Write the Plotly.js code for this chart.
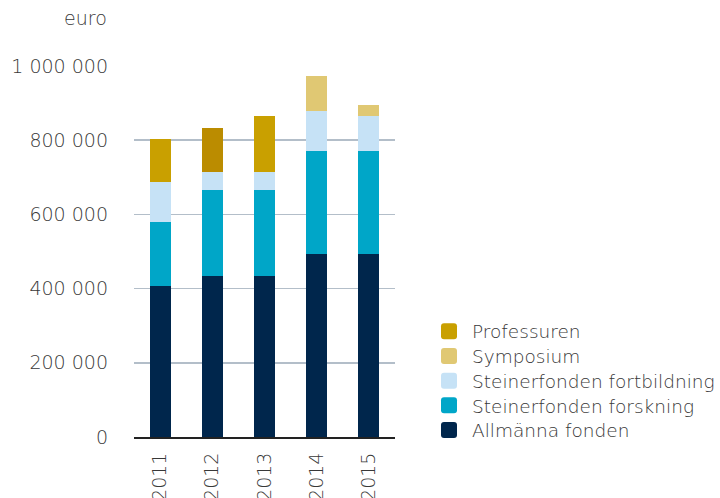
<!DOCTYPE html>
<html><head><meta charset="utf-8">
<script src="https://cdn.plot.ly/plotly-3.0.1.min.js"></script>
<style>body{margin:0;background:#fff}</style>
</head><body>
<div id="chart" style="width:720px;height:498px"></div>
<script>
const years = ['2011','2012','2013','2014','2015'];
const allmanna = [407000, 434000, 434000, 494000, 494000];
const forskning = [173000, 233000, 233000, 278000, 278000];
const fortbildning = [106000, 48000, 48000, 106000, 92000];
const symposium = [0, 0, 0, 94000, 32000];
const professuren = [116000, 119000, 150000, 0, 0];
const professurenColors = ['#c9a000','#bb8c00','#c9a000','#c9a000','#c9a000'];

const mk = (name, y, color) => ({type:'bar', name, x: years, y, marker:{color, line:{width:0}}, hoverinfo:'y+name'});
const traces = [
  mk('Allmänna fonden', allmanna, '#00264c'),
  mk('Steinerfonden forskning', forskning, '#00a6c8'),
  mk('Steinerfonden fortbildning', fortbildning, '#c6e2f6'),
  mk('Symposium', symposium, '#e0c873'),
  mk('Professuren', professuren, professurenColors)
];

const fam = '"DejaVu Sans", sans-serif';
const col = '#383838';
const font = {family:fam, size:19, color:col, weight:300};
const legFont = {family:fam, size:18.5, color:col, weight:300};
const layout = {
  width:720, height:498,
  margin:{l:134, r:325, t:66, b:61},
  barmode:'stack', bargap:0.6,
  separators:', ',
  font,
  paper_bgcolor:'#fff', plot_bgcolor:'#fff',
  showlegend:true,
  legend:{traceorder:'reversed', xref:'container', yref:'container', x:0.6, xanchor:'left', y:0.372, yanchor:'top', font:legFont, bgcolor:'rgba(0,0,0,0)'},
  xaxis:{type:'category', tickangle:-90, showline:true, linecolor:'#222', linewidth:2, ticks:'', showgrid:false, automargin:false, tickfont:font, ticklabelstandoff:6},
  yaxis:{range:[0,1000000], dtick:200000, tickformat:',d', showgrid:true, gridcolor:'#b3bec9', gridwidth:1.5, zeroline:false, showline:false, ticks:'', automargin:false, tickfont:font, ticklabelstandoff:25},
  annotations:[{text:'euro', xref:'paper', yref:'paper', x:-0.095, y:1.13, xanchor:'right', yanchor:'middle', showarrow:false, font}]
};
Plotly.newPlot('chart', traces, layout, {displayModeBar:false, staticPlot:true}).then(() => {
  document.querySelectorAll('.legendpoints path').forEach(p => {
    p.setAttribute('d', 'M2,-8H-8A3,3 0 0 0 -11,-5V5A3,3 0 0 0 -8,8H2A3,3 0 0 0 5,5V-5A3,3 0 0 0 2,-8Z');
  });
  const items = document.querySelectorAll('.legend .traces');
  let first = null;
  items.forEach((g, i) => {
    const m = /translate\(\s*([-\d.]+)[ ,]+([-\d.]+)\s*\)/.exec(g.getAttribute('transform') || '');
    if (!m) return;
    if (first === null) first = parseFloat(m[2]);
    g.setAttribute('transform', 'translate(' + m[1] + ',' + (first + i * 24.7) + ')');
  });
});
</script>
</body></html>
